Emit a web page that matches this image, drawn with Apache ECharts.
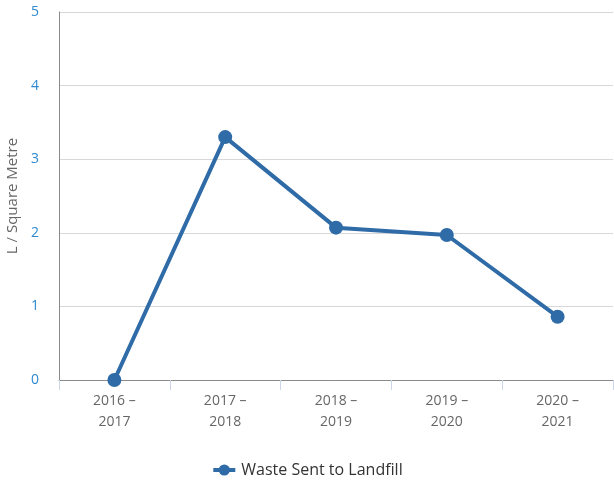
<!DOCTYPE html>
<html><head><meta charset="utf-8">
<script src="https://cdn.jsdelivr.net/npm/echarts@6/dist/echarts.min.js"></script>
<style>html,body{margin:0;padding:0;background:#fff}#c{width:614px;height:481px}</style>
</head><body><div id="c"></div>
<script>
const categories = ["2016 –\n2017", "2017 –\n2018", "2018 –\n2019", "2019 –\n2020", "2020 –\n2021"];
const wasteValues = [0, 3.3, 2.07, 1.97, 0.86];
const seriesName = "Waste Sent to Landfill";
const yAxisName = "L / Square Metre";

const FONT = 'Open Sans';
const chart = echarts.init(document.getElementById('c'), null, {renderer: 'canvas'});
chart.setOption({
  animation: false,
  textStyle: {fontFamily: FONT},
  grid: {left: 59, right: 1, top: 12, bottom: 101, outerBoundsMode: 'none', containLabel: false},
  legend: {
    top: 457, left: 'center',
    itemWidth: 22, itemHeight: 14, itemGap: 10,
    lineStyle: {width: 4},
    textStyle: {color: '#333', fontSize: 16, fontFamily: FONT, padding: [0, 0, 0, 1]},
    data: [seriesName]
  },
  xAxis: {
    type: 'category', data: categories, boundaryGap: true,
    axisLine: {lineStyle: {color: '#8a8a8a', width: 1}},
    axisTick: {show: true, length: 10, lineStyle: {color: '#ccd6eb'}},
    axisLabel: {color: '#666', fontSize: 14, lineHeight: 21, margin: 11, fontFamily: FONT}
  },
  yAxis: {
    type: 'value', min: 0, max: 5, interval: 1,
    name: yAxisName, nameLocation: 'middle', nameGap: 37, nameRotate: 90,
    nameTextStyle: {color: '#666', fontSize: 15, fontFamily: FONT},
    axisLine: {show: true, lineStyle: {color: '#8a8a8a'}},
    axisTick: {show: false},
    axisLabel: {color: '#2f8ad0', fontSize: 14, margin: 20, fontFamily: FONT},
    splitLine: {lineStyle: {color: '#d8d8d8'}}
  },
  series: [{
    name: seriesName, type: 'line', data: wasteValues,
    symbol: 'circle', symbolSize: 14,
    lineStyle: {color: '#2f6ba7', width: 4},
    itemStyle: {color: '#2f6ba7'}
  }]
});
</script></body></html>
